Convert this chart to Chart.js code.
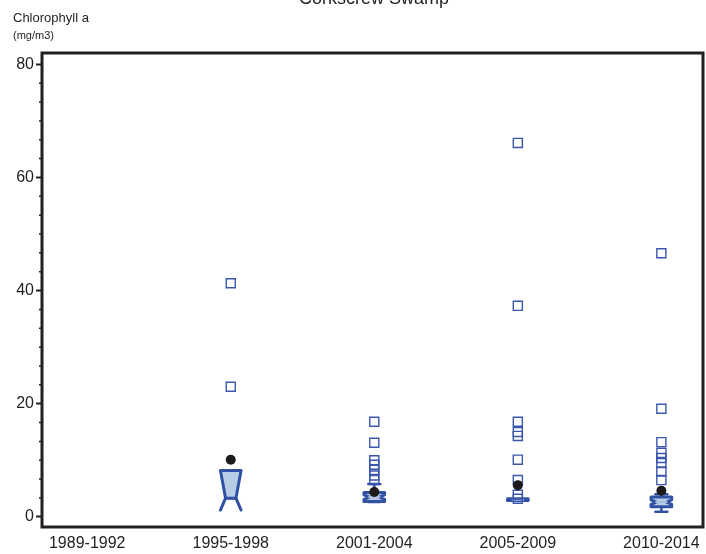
<!DOCTYPE html>
<html>
<head>
<meta charset="utf-8">
<script src="https://cdn.jsdelivr.net/npm/chart.js@4.4.1/dist/chart.umd.min.js"></script>
<style>
  body { margin: 0; background: #fff; }
  canvas { display: block; }
</style>
</head>
<body>
<canvas id="boxChart" width="706" height="554"></canvas>
<script>
// Corkscrew Swamp - chlorophyll a by period
const categories = ["1989-1992", "1995-1998", "2001-2004", "2005-2009", "2010-2014"];
const yTicks = [0, 20, 40, 60, 80];

// box stats per period (null = no data)
const q1 = [null, 3.0, 2.7, 2.9, 1.8];
const median = [null, 3.3, 3.5, 3.0, 2.6];
const q3 = [null, 8.2, 4.3, 3.2, 3.5];
const notchLo = [null, 1.2, 3.1, 2.95, 2.2];
const notchHi = [null, 8.2, 3.9, 3.05, 3.0];
const whiskLo = [null, null, 2.6, null, 0.9];
const whiskHi = [null, null, 5.8, null, 4.0];
const means = [null, 10.1, 4.4, 5.6, 4.6];

// outliers per period
const outliers = [
    [],
    [41.3, 23.0],
    [16.8, 13.1, 10.0, 9.2, 8.3, 7.3, 6.5],
    [66.1, 37.3, 16.8, 15.0, 14.3, 10.1, 6.5, 3.9, 3.2],
    [46.6, 19.1, 13.2, 11.3, 10.4, 9.5, 8.0, 6.5]
];

const FONT = "'Liberation Sans', Arial, sans-serif";
const DARK = "#231f20";
const BLUE = "#3152a3";

const outlierPoints = outliers.flatMap((vals, i) => vals.map(v => ({ x: i, y: v })));
const meanPoints = means.map((v, i) => ({ x: i, y: v })).filter(p => p.y !== null);

// draws the notched boxes using the chart scales
const boxPlugin = {
    id: 'boxes',
    beforeDatasetsDraw(chart) {
        const { ctx, scales: { x, y } } = chart;
        const half = 0.072, inner = 0.036, cap = 0.042;
        ctx.save();
        ctx.lineJoin = 'round';
        ctx.lineCap = 'round';
        categories.forEach((c, i) => {
            if (q1[i] === null) return;
            const L = x.getPixelForValue(i - half), R = x.getPixelForValue(i + half);
            const IL = x.getPixelForValue(i - inner), IR = x.getPixelForValue(i + inner);
            const cx = x.getPixelForValue(i);
            const yq1 = y.getPixelForValue(q1[i]), yq3 = y.getPixelForValue(q3[i]);
            const ym = y.getPixelForValue(median[i]);
            const ynl = y.getPixelForValue(notchLo[i]), ynh = y.getPixelForValue(Math.min(notchHi[i], q3[i]));

            // whiskers
            ctx.strokeStyle = BLUE;
            ctx.lineWidth = 2.5;
            if (whiskHi[i] !== null) {
                const yw = y.getPixelForValue(whiskHi[i]);
                ctx.beginPath();
                ctx.moveTo(cx, yq3); ctx.lineTo(cx, yw);
                ctx.moveTo(x.getPixelForValue(i - cap), yw); ctx.lineTo(x.getPixelForValue(i + cap), yw);
                ctx.stroke();
            }
            if (whiskLo[i] !== null) {
                const yw = y.getPixelForValue(whiskLo[i]);
                ctx.beginPath();
                ctx.moveTo(cx, yq1); ctx.lineTo(cx, yw);
                ctx.moveTo(x.getPixelForValue(i - cap), yw); ctx.lineTo(x.getPixelForValue(i + cap), yw);
                ctx.stroke();
            }

            ctx.lineWidth = 3;
            ctx.fillStyle = "#b8cde6";
            const openBottom = notchLo[i] < q1[i];
            // upper half (q3 down to median)
            ctx.beginPath();
            ctx.moveTo(IL, ym);
            ctx.lineTo(L, ynh);
            ctx.lineTo(L, yq3);
            ctx.lineTo(R, yq3);
            ctx.lineTo(R, ynh);
            ctx.lineTo(IR, ym);
            if (!openBottom) {
                // lower half (median down to q1)
                ctx.lineTo(R, ynl);
                ctx.lineTo(R, yq1);
                ctx.lineTo(L, yq1);
                ctx.lineTo(L, ynl);
            }
            ctx.closePath();
            ctx.fill();
            ctx.stroke();

            if (openBottom) {
                // notch reaches past q1: legs stay open
                ctx.beginPath();
                ctx.moveTo(IL, ym); ctx.lineTo(L, ynl);
                ctx.moveTo(IR, ym); ctx.lineTo(R, ynl);
                ctx.stroke();
            }

            // median
            ctx.beginPath();
            ctx.lineWidth = 2;
            ctx.strokeStyle = openBottom ? BLUE : "#a9c0e0";
            ctx.moveTo(IL, ym); ctx.lineTo(IR, ym);
            ctx.stroke();
        });
        ctx.restore();
    },
    afterDraw(chart) {
        const { ctx, chartArea: a, scales: { y } } = chart;
        ctx.save();
        // frame
        ctx.strokeStyle = DARK;
        ctx.lineWidth = 3;
        ctx.strokeRect(a.left, a.top, a.right - a.left, a.bottom - a.top);

        // minor ticks
        ctx.lineWidth = 1.5;
        ctx.beginPath();
        for (let k = 0; k < 4; k++) {
            for (let m = 1; m < 6; m++) {
                const py = y.getPixelForValue(k * 20 + m * 20 / 6);
                ctx.moveTo(a.left - 3, py); ctx.lineTo(a.left, py);
            }
        }
        ctx.stroke();

        // texts
        ctx.fillStyle = DARK;
        ctx.textAlign = 'center';
        ctx.textBaseline = 'alphabetic';
        ctx.font = `18px ${FONT}`;
        ctx.fillText("Corkscrew Swamp", 374, 4);
        ctx.textAlign = 'left';
        ctx.font = `13px ${FONT}`;
        ctx.fillText("Chlorophyll a", 13, 22);
        ctx.font = `11px ${FONT}`;
        ctx.fillText("(mg/m3)", 13, 39);
        ctx.restore();
    }
};

new Chart(document.getElementById("boxChart"), {
    type: 'scatter',
    data: {
        datasets: [
            {
                label: "Mean",
                data: meanPoints,
                pointStyle: 'circle',
                pointRadius: 5,
                pointBackgroundColor: "#1c1a1b",
                pointBorderColor: "#1c1a1b",
                pointBorderWidth: 0
            },
            {
                label: "Outliers",
                data: outlierPoints,
                pointStyle: 'rect',
                pointRadius: 6.4,
                pointBackgroundColor: "rgba(0,0,0,0)",
                pointBorderColor: "#3a56ad",
                pointBorderWidth: 1.4
            }
        ]
    },
    options: {
        responsive: false,
        animation: false,
        layout: { autoPadding: false, padding: { top: 53, right: 3, left: 0, bottom: 0 } },
        plugins: {
            legend: { display: false },
            tooltip: { enabled: false }
        },
        scales: {
            x: {
                type: 'linear',
                min: -0.315,
                max: 4.29,
                afterBuildTicks: s => { s.ticks = categories.map((c, i) => ({ value: i })); },
                afterFit: s => { s.height = 27; s.paddingLeft = 0; s.paddingRight = 0; },
                grid: { display: false, drawTicks: false },
                border: { display: false },
                ticks: {
                    callback: v => categories[v],
                    font: { family: FONT, size: 16 },
                    color: DARK,
                    padding: 7,
                    maxRotation: 0
                }
            },
            y: {
                min: -1.8,
                max: 82,
                afterBuildTicks: s => { s.ticks = yTicks.map(v => ({ value: v })); },
                afterFit: s => { s.width = 42; },
                grid: { drawOnChartArea: false, drawTicks: true, tickLength: 6, color: DARK, tickWidth: 2 },
                border: { display: false },
                ticks: {
                    font: { family: FONT, size: 16 },
                    color: DARK,
                    padding: 2
                }
            }
        }
    },
    plugins: [boxPlugin]
});
</script>
</body>
</html>
